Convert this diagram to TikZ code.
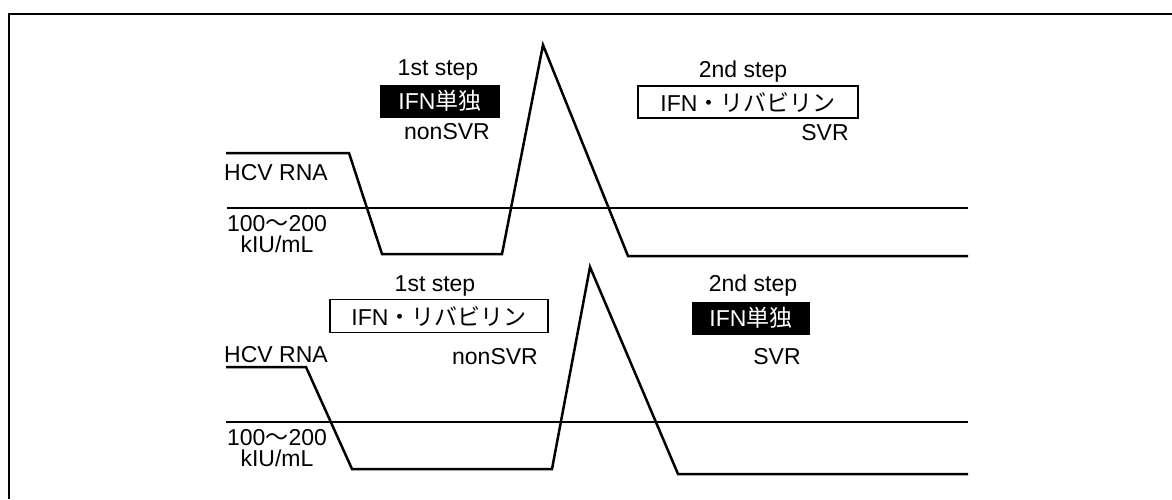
\documentclass[tikz,border=0pt]{standalone}
\usepackage{fontspec}
\setmainfont{Liberation Sans}
\newfontfamily\cjk{Noto Sans CJK JP}
\begin{document}
\begin{tikzpicture}[x=0.5pt,y=-0.5pt,
  lbl/.style={inner sep=0pt,font=\fontsize{11.5}{13}\selectfont},
  levellbl/.style={inner sep=0pt,align=center,font=\fontsize{11.5}{10.5}\selectfont},
  darkbox/.style={fill=black,text=white,inner sep=0pt,font=\fontsize{11.5}{13}\selectfont},
  lightbox/.style={draw=black,line width=0.6pt,fill=white,inner sep=0pt,font=\fontsize{11.5}{13}\selectfont},
  curve/.style={line width=1.25pt,line join=miter},
  limit/.style={line width=0.8pt},
  frame/.style={line width=1.3pt}]
\useasboundingbox (0,0) rectangle (1172,499);
% outer frame (open at right and bottom)
\draw[frame] (1172,14) -- (9,14) -- (9,499);

% ---------- upper panel ----------
\coordinate (ta) at (226,153);
\coordinate (tb) at (349,153);
\coordinate (tc) at (382,254);
\coordinate (td) at (502,254);
\coordinate (te) at (543,45);
\coordinate (tf) at (628,256);
\coordinate (tg) at (968,256);
\coordinate (tl1) at (227,208);
\coordinate (tl2) at (968,208);
\draw[limit] (tl1) -- (tl2);
\draw[curve] (ta) -- (tb) -- (tc) -- (td) -- (te) -- (tf) -- (tg);

\node[lbl] (hcvA) at (276,173) {HCV RNA};
\node[levellbl] (rngA) at (277,234) {100{\cjk 〜}200\\kIU/mL};
\node[lbl] (s1A) at (438,70) {1st step};
\node[darkbox,minimum width=60pt,minimum height=16.5pt] (b1A) at (440,101) {IFN{\cjk 単独}};
\node[lbl] (nsA) at (447,132) {nonSVR};
\node[lbl] (s2A) at (743,72) {2nd step};
\node[lightbox,minimum width=110pt,minimum height=16pt] (b2A) at (748,102) {IFN{\cjk ・リバビリン}};
\node[lbl] (svA) at (825,133) {SVR};

% ---------- lower panel ----------
\coordinate (ba) at (226,367);
\coordinate (bb) at (306,367);
\coordinate (bc) at (352,469);
\coordinate (bd) at (552,469);
\coordinate (be) at (590,267);
\coordinate (bf) at (678,474);
\coordinate (bg) at (968,474);
\coordinate (bl1) at (226,422);
\coordinate (bl2) at (968,422);
\draw[limit] (bl1) -- (bl2);
\draw[curve] (ba) -- (bb) -- (bc) -- (bd) -- (be) -- (bf) -- (bg);

\node[lbl] (hcvB) at (276,355) {HCV RNA};
\node[levellbl] (rngB) at (277,448) {100{\cjk 〜}200\\kIU/mL};
\node[lbl] (s1B) at (435,286) {1st step};
\node[lightbox,minimum width=109pt,minimum height=16.5pt] (b1B) at (439,316) {IFN{\cjk ・リバビリン}};
\node[lbl] (nsB) at (495,357) {nonSVR};
\node[lbl] (s2B) at (753,286) {2nd step};
\node[darkbox,minimum width=59pt,minimum height=16.5pt] (b2B) at (751,318) {IFN{\cjk 単独}};
\node[lbl] (svB) at (777,357) {SVR};
\end{tikzpicture}
\end{document}
